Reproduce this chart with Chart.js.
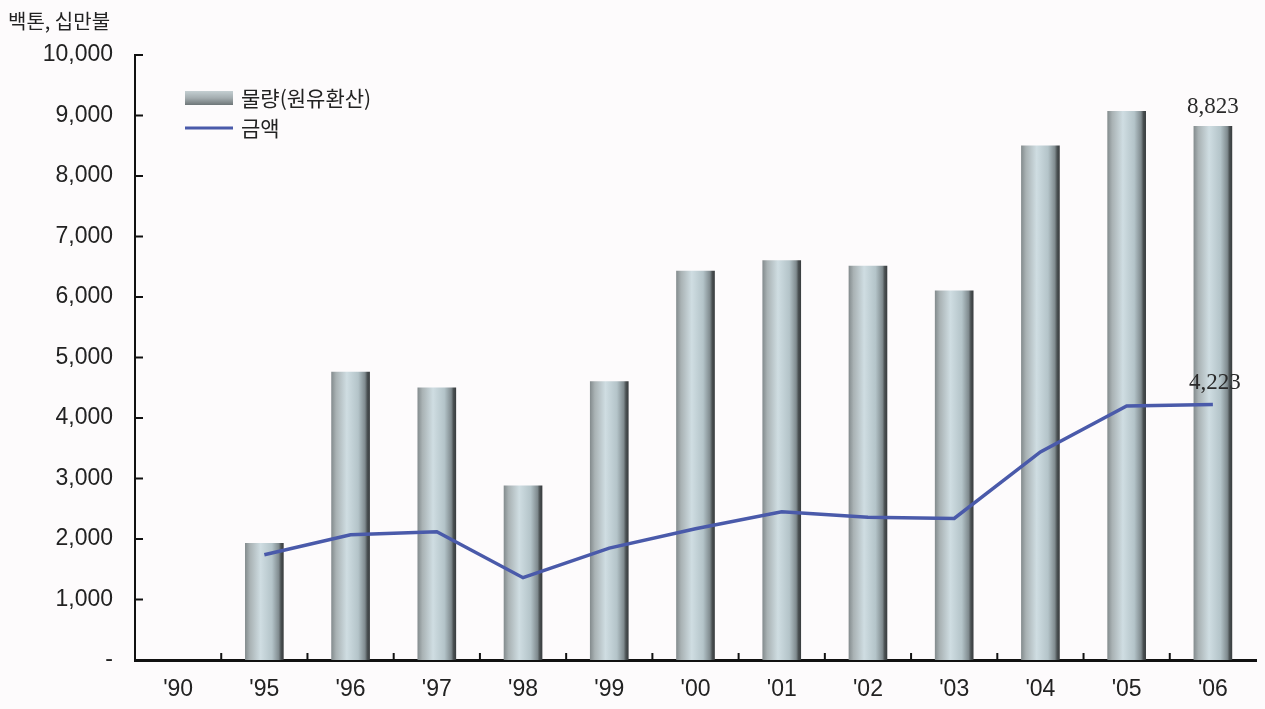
<!DOCTYPE html>
<html>
<head>
<meta charset="utf-8">
<script src="https://cdn.jsdelivr.net/npm/chart.js@4.4.1/dist/chart.umd.min.js"></script>
<style>
  html, body { margin: 0; padding: 0; background: #fdfbfc; }
  #wrap { position: relative; width: 1265px; height: 709px; }
  #unit { position: absolute; left: 8px; top: 6px; font: 20px "Noto Sans CJK KR", sans-serif; color: #222; }
</style>
</head>
<body>
<div id="wrap">
  <div id="unit">백톤, 십만불</div>
  <canvas id="chart" width="1265" height="709"></canvas>
</div>
<script>
const years = ["'90", "'95", "'96", "'97", "'98", "'99", "'00", "'01", "'02", "'03", "'04", "'05", "'06"];
const volume = [null, 1930, 4760, 4500, 2880, 4600, 6430, 6600, 6510, 6100, 8500, 9070, 8823];
const amount = [null, 1740, 2070, 2120, 1360, 1850, 2170, 2450, 2360, 2340, 3440, 4200, 4223];
const yTicks = [0, 1000, 2000, 3000, 4000, 5000, 6000, 7000, 8000, 9000, 10000];

const barW = 38;

function barGradient(c) {
  const chart = c.chart;
  const xs = chart.scales.x;
  if (!xs || xs.left === undefined) return '#b8c6ca';
  const cx = xs.getPixelForValue(c.dataIndex);
  const g = chart.ctx.createLinearGradient(cx - barW / 2, 0, cx + barW / 2, 0);
  g.addColorStop(0, '#858d8f');
  g.addColorStop(0.12, '#a9b2b4');
  g.addColorStop(0.4, '#cfdde2');
  g.addColorStop(0.7, '#b4c4c9');
  g.addColorStop(0.88, '#808b8f');
  g.addColorStop(0.94, '#4a5052');
  g.addColorStop(1, '#3a3e40');
  return g;
}

// tick marks inside the axes, value labels and legend
const decor = {
  id: 'decor',
  afterDatasetsDraw(chart) {
    const ctx = chart.ctx;
    const xs = chart.scales.x, ys = chart.scales.y;
    const area = chart.chartArea;
    ctx.save();
    ctx.strokeStyle = '#111';
    ctx.lineWidth = 2;
    yTicks.forEach(v => {
      const y = ys.getPixelForValue(v);
      ctx.beginPath();
      ctx.moveTo(area.left, y);
      ctx.lineTo(area.left + 8, y);
      ctx.stroke();
    });
    for (let i = 0; i < years.length - 1; i++) {
      const x = (xs.getPixelForValue(i) + xs.getPixelForValue(i + 1)) / 2;
      ctx.beginPath();
      ctx.moveTo(x, area.bottom);
      ctx.lineTo(x, area.bottom - 7);
      ctx.stroke();
    }

    // end value labels
    const last = years.length - 1;
    ctx.fillStyle = '#2a2a2a';
    ctx.font = '23px "Liberation Serif", serif';
    ctx.textAlign = 'center';
    ctx.textBaseline = 'middle';
    ctx.fillText(volume[last].toLocaleString('en-US'), xs.getPixelForValue(last), ys.getPixelForValue(volume[last]) - 19);
    ctx.fillText(amount[last].toLocaleString('en-US'), xs.getPixelForValue(last) + 2, ys.getPixelForValue(amount[last]) - 22);

    // legend: bar series first, then line series
    const barSet = chart.data.datasets.find(d => d.type === 'bar');
    const lineSet = chart.data.datasets.find(d => d.type === 'line');
    const lx = 185, ly = 98;
    const g = ctx.createLinearGradient(0, ly - 7, 0, ly + 7);
    g.addColorStop(0, '#c4cfd2');
    g.addColorStop(0.5, '#a4adb0');
    g.addColorStop(1, '#6e7678');
    ctx.fillStyle = g;
    ctx.fillRect(lx, ly - 7, 48, 14);
    ctx.strokeStyle = lineSet.borderColor;
    ctx.lineWidth = 3;
    ctx.beginPath();
    ctx.moveTo(lx, ly + 30);
    ctx.lineTo(lx + 48, ly + 30);
    ctx.stroke();
    ctx.fillStyle = '#222';
    ctx.font = '21px "Noto Sans CJK KR", sans-serif';
    ctx.textAlign = 'left';
    ctx.fillText(barSet.label, lx + 56, ly);
    ctx.fillText(lineSet.label, lx + 56, ly + 30);
    ctx.restore();
  }
};

new Chart(document.getElementById('chart'), {
  data: {
    labels: years,
    datasets: [
      {
        type: 'line',
        label: '금액',
        data: amount,
        borderColor: '#4a5aaa',
        borderWidth: 3.5,
        pointRadius: 0,
        tension: 0,
        order: 0
      },
      {
        type: 'bar',
        label: '물량(원유환산)',
        data: volume,
        backgroundColor: barGradient,
        barThickness: barW,
        borderWidth: 0,
        order: 1
      }
    ]
  },
  plugins: [decor],
  options: {
    responsive: false,
    animation: false,
    layout: { padding: { top: 55, right: 9, left: 0, bottom: 0 } },
    plugins: {
      legend: { display: false },
      tooltip: { enabled: false }
    },
    scales: {
      x: {
        offset: true,
        grid: { display: false, drawTicks: false },
        border: { display: true, color: '#111', width: 3 },
        ticks: {
          color: '#222',
          padding: 16,
          font: { family: '"Liberation Sans", Arial, sans-serif', size: 23 }
        },
        afterFit(scale) { scale.height = 49; }
      },
      y: {
        min: 0,
        max: 10000,
        afterBuildTicks(scale) { scale.ticks = yTicks.map(v => ({ value: v })); },
        grid: { display: false, drawTicks: false },
        border: { display: true, color: '#111', width: 2 },
        ticks: {
          color: '#222',
          padding: 22,
          font: { family: '"Liberation Sans", Arial, sans-serif', size: 23 },
          callback: v => v === 0 ? '-' : v.toLocaleString('en-US')
        },
        afterFit(scale) { scale.width = 135; }
      }
    }
  }
});
</script>
</body>
</html>
